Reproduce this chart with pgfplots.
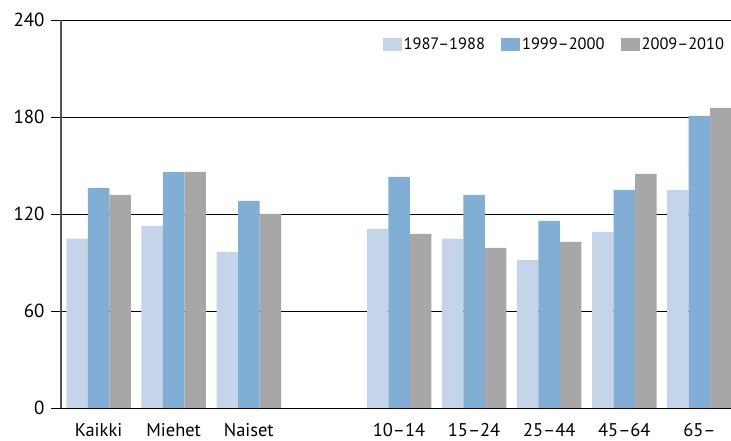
\documentclass[border=0pt]{standalone}
\usepackage{fontspec}
\setmainfont{PT Sans}
\usepackage{pgfplots}
\pgfplotsset{compat=1.18}
\definecolor{lightb}{HTML}{C4D5EA}
\definecolor{midb}{HTML}{80AED5}
\definecolor{greyb}{HTML}{A7A7A7}
\definecolor{yaxis}{HTML}{555555}
\newcommand{\chartfont}{\fontsize{16.5}{19}\selectfont}
\newcommand{\tickfont}{\fontsize{19}{22}\selectfont}
\begin{document}
\begin{tikzpicture}
\begin{axis}[
    at={(0,0)}, anchor=south west,
    scale only axis,
    width=670bp, height=388bp,
    ybar=0pt, bar width=21.5bp,
    xmin=-0.5, xmax=8.42,
    ymin=0, ymax=240,
    ytick={0,60,120,180,240},
    xtick={0,1,2,4,5,6,7,8},
    xticklabels={Kaikki,Miehet,Naiset,10–14,15–24,25–44,45–64,65–},
    axis x line*=bottom, axis y line*=left,
    x axis line style={-, black, line width=0.8bp},
    y axis line style={-, draw=yaxis, line width=1.6bp},
    ymajorgrids=true,
    major grid style={black, line width=0.8bp},
    tick align=outside,
    major tick length=10bp,
    ytick style={black, line width=0.8bp},
    xtick style={draw=none},
    ticklabel style={font=\tickfont},
    /pgf/number format/assume math mode=true,
    yticklabel style={xshift=-3bp},
    xticklabel style={inner sep=0pt, yshift=-5.5bp, font=\fontsize{18.5}{21}\selectfont},
    legend columns=3,
    legend cell align=left,
    legend style={draw=none, fill=none, font=\chartfont,
        at={(rel axis cs:0.993,0.96)}, anchor=north east, inner sep=0pt,
        nodes={inner sep=2bp},
        /tikz/every even column/.append style={column sep=14bp}},
    legend image code/.code={\fill[#1] (0bp,-6.5bp) rectangle (19bp,6.5bp);},
]
\addplot[fill=lightb, draw=none] coordinates {
    (0,104.7) (1,112.7) (2,96.6) (4,110.8) (5,104.7) (6,91.7) (7,109.0) (8,134.9)};
\addlegendentry{1987–1988}
\addplot[fill=midb, draw=none] coordinates {
    (0,136.2) (1,146.1) (2,128.1) (4,143.0) (5,131.9) (6,115.8) (7,134.9) (8,180.7)};
\addlegendentry{1999–2000}
\addplot[fill=greyb, draw=none] coordinates {
    (0,131.9) (1,146.1) (2,120.1) (4,107.7) (5,99.1) (6,102.8) (7,144.8) (8,185.6)};
\addlegendentry{2009–2010}
\end{axis}
\pgfresetboundingbox
\path (-61bp,-33bp) rectangle (670bp,408bp);
\end{tikzpicture}
\end{document}
